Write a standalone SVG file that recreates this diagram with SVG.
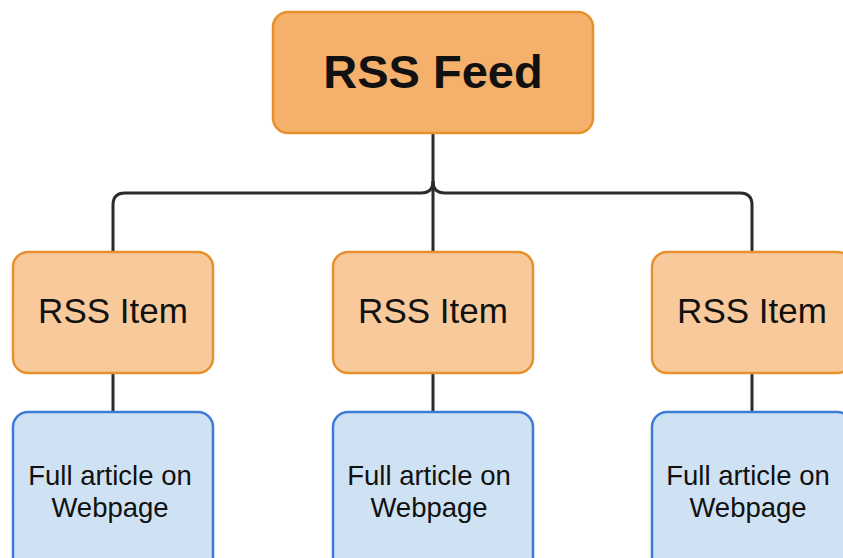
<svg xmlns="http://www.w3.org/2000/svg" width="843" height="558" viewBox="0 0 843 558">
<style>
.feed{fill:#F5B06B;stroke:#E6912E;stroke-width:2.5}
.item{fill:#F8CA9B;stroke:#E6912E;stroke-width:2.5}
.page{fill:#CFE2F3;stroke:#3D7BD9;stroke-width:2.5}
.edge{fill:none;stroke:#2B2B2B;stroke-width:3}
text{font-family:"Liberation Sans",Arial,sans-serif;fill:#111;text-anchor:middle}
.t1{font-size:47px;font-weight:bold}
.t2{font-size:35px}
.t3{font-size:27.5px}
</style>
<rect width="843" height="558" fill="#ffffff"/>
<g id="connectors">
<path class="edge" d="M433,133 V252"/>
<path class="edge" d="M113,252 V205 Q113,193 125,193 H421 Q433,193 433,181"/>
<path class="edge" d="M752,252 V205 Q752,193 740,193 H445 Q433,193 433,181"/>
<path class="edge" d="M113,373 V412"/>
<path class="edge" d="M433,373 V412"/>
<path class="edge" d="M752,373 V412"/>
</g>
<g id="feed">
<rect class="feed" x="273" y="12" width="320" height="121" rx="15"/>
<text class="t1" x="433" y="88">RSS Feed</text>
</g>
<g id="item1">
<rect class="item" x="13" y="252" width="200" height="121" rx="15"/>
<text class="t2" x="113" y="323">RSS Item</text>
</g>
<g id="item2">
<rect class="item" x="333" y="252" width="200" height="121" rx="15"/>
<text class="t2" x="433" y="323">RSS Item</text>
</g>
<g id="item3">
<rect class="item" x="652" y="252" width="200" height="121" rx="15"/>
<text class="t2" x="752" y="323">RSS Item</text>
</g>
<g id="page1">
<rect class="page" x="13" y="412" width="200" height="160" rx="15"/>
<text class="t3" x="110" y="485">Full article on</text>
<text class="t3" x="110" y="517">Webpage</text>
</g>
<g id="page2">
<rect class="page" x="333" y="412" width="200" height="160" rx="15"/>
<text class="t3" x="429" y="485">Full article on</text>
<text class="t3" x="429" y="517">Webpage</text>
</g>
<g id="page3">
<rect class="page" x="652" y="412" width="200" height="160" rx="15"/>
<text class="t3" x="748" y="485">Full article on</text>
<text class="t3" x="748" y="517">Webpage</text>
</g>
</svg>
